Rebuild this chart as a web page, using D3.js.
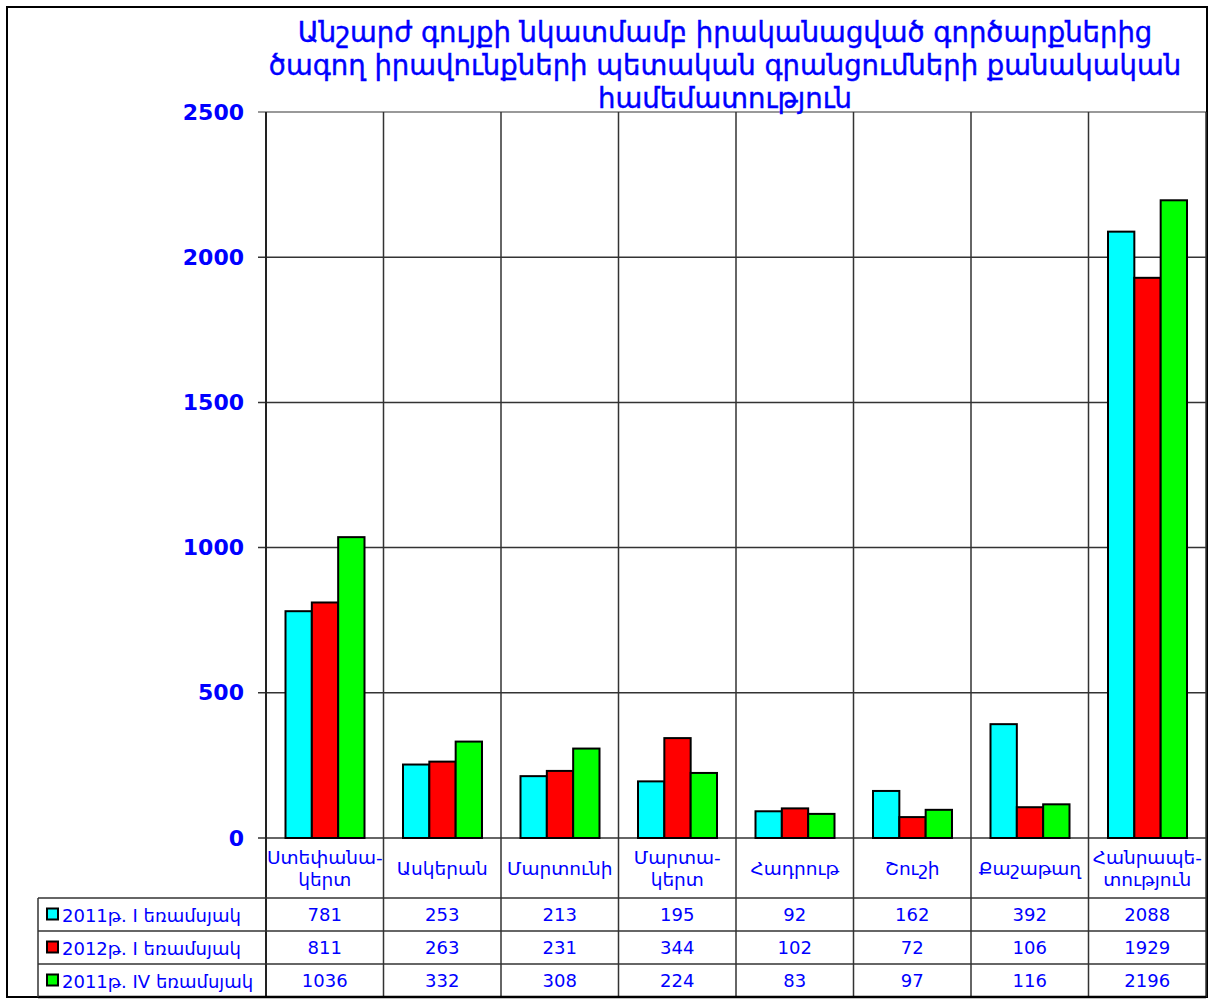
<!DOCTYPE html>
<html>
<head>
    <meta charset="utf-8" />
    <title>Գրանցումների քանակական համեմատություն</title>
    <script src="https://d3js.org/d3.v7.min.js" charset="utf-8"></script>
    <style>
        body { margin: 0; background: #fff; }
        text { font-family: "DejaVu Sans", sans-serif; fill: #0000ff; }
    </style>
</head>
<body>
    <script>
        // Chart data
        const titleLines = [
            "Անշարժ գույքի նկատմամբ իրականացված գործարքներից",
            "ծագող իրավունքների պետական գրանցումների քանակական",
            "համեմատություն"
        ];
        const categories = ["Ստեփանակերտ", "Ասկերան", "Մարտունի", "Մարտակերտ", "Հադրութ", "Շուշի", "Քաշաթաղ", "Հանրապետություն"];
        const categoryLabels = [["Ստեփանա-", "կերտ"], ["Ասկերան"], ["Մարտունի"], ["Մարտա-", "կերտ"], ["Հադրութ"], ["Շուշի"], ["Քաշաթաղ"], ["Հանրապե-", "տություն"]];
        const seriesNames = ["2011թ. I եռամսյակ", "2012թ. I եռամսյակ", "2011թ. IV եռամսյակ"];
        const seriesColors = ["#00ffff", "#ff0000", "#00ff00"];
        const q1_2011 = [781, 253, 213, 195, 92, 162, 392, 2088];
        const q1_2012 = [811, 263, 231, 344, 102, 72, 106, 1929];
        const q4_2011 = [1036, 332, 308, 224, 83, 97, 116, 2196];
        const yTicks = [0, 500, 1000, 1500, 2000, 2500];

        const seriesValues = [q1_2011, q1_2012, q4_2011];

        // Layout
        const width = 1211, height = 1000;
        const plot = { left: 266, right: 1206, top: 112, bottom: 838 };
        const labelRowBottom = 898;
        const rowHeight = 33;
        const tableLeft = 38;
        const tableBottom = labelRowBottom + rowHeight * 3;

        const svg = d3.select("body")
            .append("svg")
            .attr("width", width)
            .attr("height", height);

        // Outer frame
        svg.append("rect")
            .attr("x", 7).attr("y", 7)
            .attr("width", 1200).attr("height", 990)
            .attr("fill", "none")
            .attr("stroke", "#000")
            .attr("stroke-width", 2);

        // Scales
        const y = d3.scaleLinear().domain([0, 2500]).range([plot.bottom, plot.top]);
        const x0 = d3.scaleBand().domain(categories).range([plot.left, plot.right]);
        const x1 = d3.scaleBand().domain(d3.range(seriesNames.length))
            .range([19.5, x0.bandwidth() - 19]);

        // Horizontal gridlines
        svg.append("g")
            .selectAll("line")
            .data(yTicks)
            .enter()
            .append("line")
            .attr("x1", plot.left - 8)
            .attr("x2", plot.right)
            .attr("y1", d => y(d))
            .attr("y2", d => y(d))
            .attr("stroke", d => d === 2500 ? "#777" : "#333")
            .attr("stroke-width", 1.5);

        // Vertical lines at category boundaries, down through the table
        const bounds = categories.map(c => x0(c)).concat([plot.right]);
        svg.append("g")
            .selectAll("line")
            .data(bounds)
            .enter()
            .append("line")
            .attr("x1", d => d)
            .attr("x2", d => d)
            .attr("y1", plot.top)
            .attr("y2", tableBottom)
            .attr("stroke", (d, i) => i === 0 ? "#222" : "#333")
            .attr("stroke-width", (d, i) => i === 0 ? 2 : 1.5);

        // Y axis labels
        const yAxis = svg.append("g")
            .attr("transform", `translate(${plot.left},0)`)
            .call(d3.axisLeft(y).tickValues(yTicks).tickFormat(d3.format("d")).tickSize(0).tickPadding(22));
        yAxis.select(".domain").remove();
        yAxis.selectAll("text")
            .attr("font-family", "DejaVu Sans")
            .attr("font-weight", "bold")
            .attr("font-size", 22)
            .attr("fill", "#0000ff");

        // Bars
        const groups = svg.append("g")
            .selectAll("g")
            .data(categories)
            .enter()
            .append("g")
            .attr("transform", d => `translate(${x0(d)},0)`);

        groups.selectAll("rect")
            .data((c, ci) => seriesValues.map((vals, si) => ({ si: si, value: vals[ci] })))
            .enter()
            .append("rect")
            .attr("x", d => x1(d.si))
            .attr("y", d => y(d.value))
            .attr("width", x1.bandwidth())
            .attr("height", d => y(0) - y(d.value))
            .attr("fill", d => seriesColors[d.si])
            .attr("stroke", "#000")
            .attr("stroke-width", 2);

        // Category labels
        groups.append("text")
            .attr("text-anchor", "middle")
            .attr("font-size", 18.5)
            .selectAll("tspan")
            .data(c => {
                const lines = categoryLabels[categories.indexOf(c)];
                return lines.map((t, i) => ({ t: t, i: i, n: lines.length }));
            })
            .enter()
            .append("tspan")
            .attr("x", x0.bandwidth() / 2)
            .attr("y", d => d.n === 1 ? 875 : 864 + d.i * 22)
            .text(d => d.t);

        // Table lines
        const rowLines = d3.range(4).map(i => labelRowBottom + i * rowHeight);
        svg.append("g")
            .selectAll("line")
            .data(rowLines)
            .enter()
            .append("line")
            .attr("x1", tableLeft)
            .attr("x2", plot.right)
            .attr("y1", d => d)
            .attr("y2", d => d)
            .attr("stroke", (d, i) => i === 3 ? "#000" : "#333")
            .attr("stroke-width", (d, i) => i === 3 ? 2.5 : 1.5);

        svg.append("line")
            .attr("x1", tableLeft).attr("x2", tableLeft)
            .attr("y1", labelRowBottom).attr("y2", tableBottom)
            .attr("stroke", "#333")
            .attr("stroke-width", 1.5);

        // Table rows: legend key + values
        const rows = svg.append("g")
            .selectAll("g")
            .data(seriesNames)
            .enter()
            .append("g")
            .attr("transform", (d, i) => `translate(0,${labelRowBottom + i * rowHeight})`);

        rows.append("rect")
            .attr("x", 47)
            .attr("y", rowHeight / 2 - 6)
            .attr("width", 11)
            .attr("height", 11)
            .attr("fill", (d, i) => seriesColors[i])
            .attr("stroke", "#000")
            .attr("stroke-width", 2);

        rows.append("text")
            .attr("x", 62)
            .attr("y", rowHeight / 2 + 7)
            .attr("font-size", 18)
            .text(d => d);

        rows.each(function (name, si) {
            d3.select(this).selectAll(".val")
                .data(seriesValues[si])
                .enter()
                .append("text")
                .attr("class", "val")
                .attr("x", (v, ci) => x0(categories[ci]) + x0.bandwidth() / 2)
                .attr("y", rowHeight / 2 + 6.5)
                .attr("text-anchor", "middle")
                .attr("font-size", 18)
                .text(v => v);
        });

        // Title
        svg.append("text")
            .attr("text-anchor", "middle")
            .attr("font-size", 27.5)
            .attr("stroke", "#0000ff")
            .attr("stroke-width", 0.4)
            .selectAll("tspan")
            .data(titleLines)
            .enter()
            .append("tspan")
            .attr("x", 725)
            .attr("y", (d, i) => 42 + i * 33)
            .text(d => d);
    </script>
</body>
</html>
